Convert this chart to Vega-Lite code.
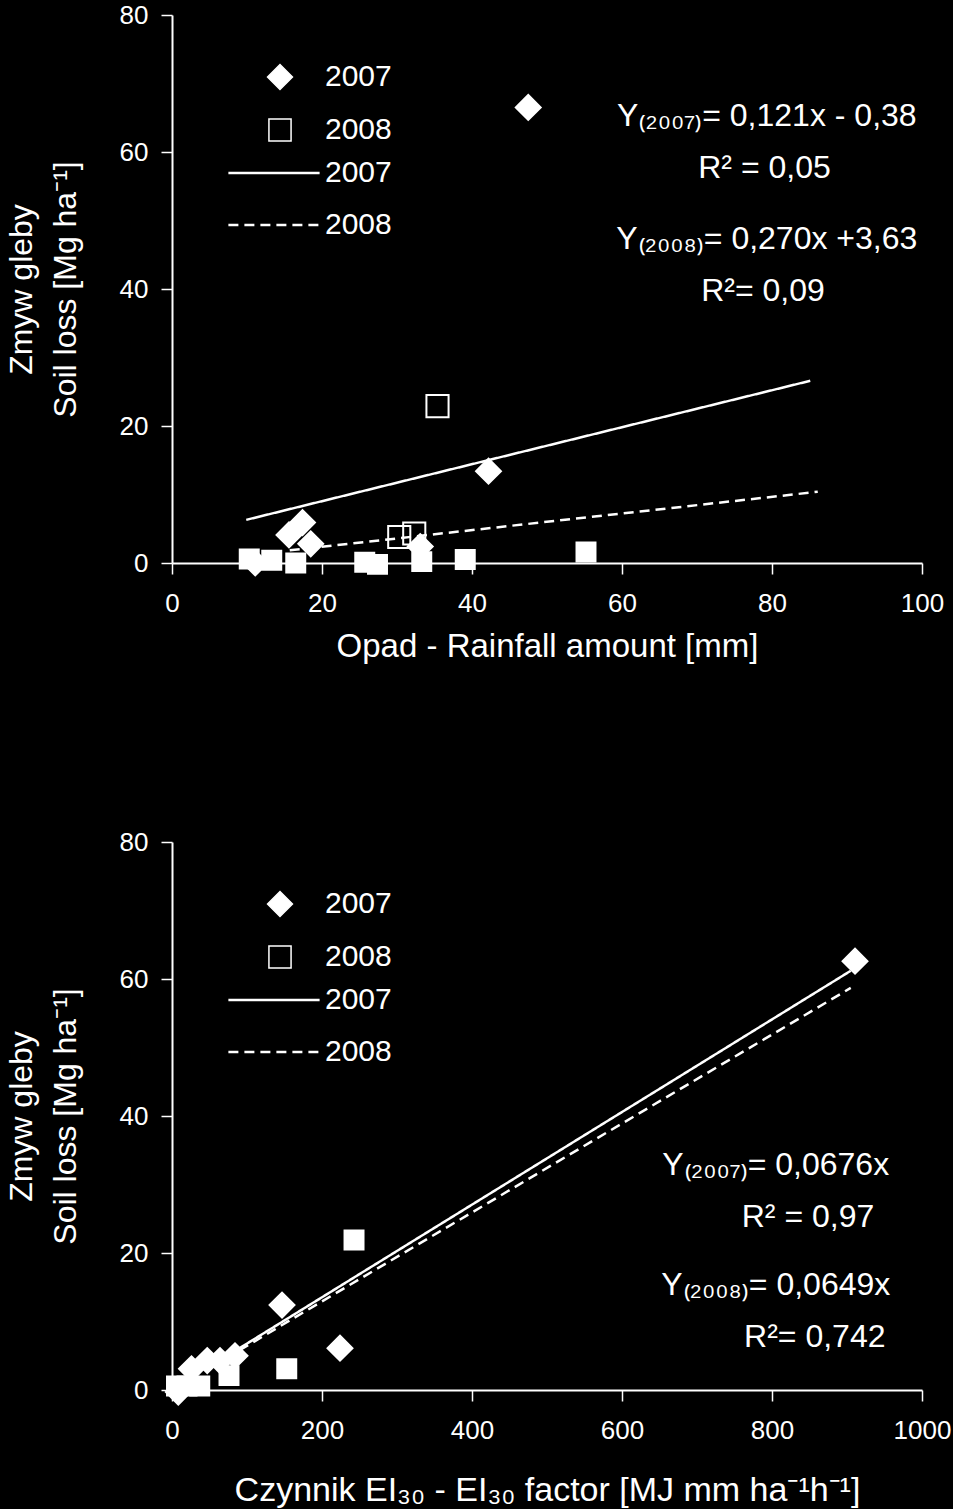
{
  "$schema": "https://vega.github.io/schema/vega-lite/v6.json",
  "background": "black",
  "padding": {"left": 5, "top": 2, "right": 2, "bottom": 2},
  "spacing": 166,
  "config": {
    "font": "Liberation Sans",
    "view": {"stroke": null},
    "axis": {
      "grid": false,
      "domainColor": "white",
      "domainWidth": 2,
      "tickColor": "white",
      "tickWidth": 1.5,
      "tickSize": 11,
      "labelColor": "white",
      "labelFont": "Liberation Sans",
      "labelFontSize": 26,
      "labelFlush": false,
      "labelOverlap": false,
      "labelBound": false,
      "titleColor": "white",
      "titleFont": "Liberation Sans",
      "titleFontSize": 33,
      "titleFontWeight": "normal"
    },
    "axisX": {"labelPadding": 16, "titlePadding": 14, "format": "d"},
    "axisY": {"labelPadding": 13, "titlePadding": 37, "titleLineHeight": 44, "titleFontSize": 32}
  },
  "datasets": {
    "pts": [
      {"panel": "A", "grp": "2007", "x": 47.5, "y": 66.5},
      {"panel": "A", "grp": "2007", "x": 42.2, "y": 13.4},
      {"panel": "A", "grp": "2007", "x": 15.6, "y": 4.1},
      {"panel": "A", "grp": "2007", "x": 17.4, "y": 5.9},
      {"panel": "A", "grp": "2007", "x": 18.5, "y": 2.8},
      {"panel": "A", "grp": "2007", "x": 33.1, "y": 2.4},
      {"panel": "A", "grp": "2007", "x": 11.1, "y": 0},
      {"panel": "A", "grp": "2008", "x": 35.4, "y": 22.9},
      {"panel": "A", "grp": "2008", "x": 30.3, "y": 3.8},
      {"panel": "A", "grp": "2008", "x": 32.3, "y": 4.3},
      {"panel": "A", "grp": "f", "x": 10.3, "y": 0.6},
      {"panel": "A", "grp": "f", "x": 13.3, "y": 0.4},
      {"panel": "A", "grp": "f", "x": 16.5, "y": 0},
      {"panel": "A", "grp": "f", "x": 25.7, "y": 0.1},
      {"panel": "A", "grp": "f", "x": 27.4, "y": -0.2},
      {"panel": "A", "grp": "f", "x": 33.3, "y": 0.2},
      {"panel": "A", "grp": "f", "x": 39.1, "y": 0.5},
      {"panel": "A", "grp": "f", "x": 55.2, "y": 1.6},
      {"panel": "B", "grp": "2007", "x": 910.7, "y": 62.6},
      {"panel": "B", "grp": "2007", "x": 146.7, "y": 12.4},
      {"panel": "B", "grp": "2007", "x": 224, "y": 6.1},
      {"panel": "B", "grp": "2007", "x": 26, "y": 3.1},
      {"panel": "B", "grp": "2007", "x": 84, "y": 5.0},
      {"panel": "B", "grp": "2007", "x": 47, "y": 4.3},
      {"panel": "B", "grp": "2007", "x": 64, "y": 4.3},
      {"panel": "B", "grp": "2007", "x": 8.4, "y": -0.3},
      {"panel": "B", "grp": "f", "x": 242.7, "y": 21.9},
      {"panel": "B", "grp": "f", "x": 153, "y": 3.1},
      {"panel": "B", "grp": "f", "x": 76, "y": 2.1},
      {"panel": "B", "grp": "f", "x": 6, "y": 0.6},
      {"panel": "B", "grp": "f", "x": 20, "y": 0.6},
      {"panel": "B", "grp": "f", "x": 37, "y": 0.6}
    ],
    "lines": [
      {"panel": "A", "series": "2007", "x": 9.9, "y": 6.3},
      {"panel": "A", "series": "2007", "x": 85.1, "y": 26.6},
      {"panel": "A", "series": "2008", "x": 15.7, "y": 1.85},
      {"panel": "A", "series": "2008", "x": 86.1, "y": 10.4},
      {"panel": "B", "series": "2007", "x": 90, "y": 6.1},
      {"panel": "B", "series": "2007", "x": 905, "y": 61.2},
      {"panel": "B", "series": "2008", "x": 90, "y": 5.8},
      {"panel": "B", "series": "2008", "x": 905, "y": 58.7}
    ]
  },
  "resolve": {
    "scale": {"shape": "independent", "fill": "independent", "size": "independent", "strokeDash": "independent"},
    "legend": {"shape": "independent", "fill": "independent", "size": "independent", "strokeDash": "independent"}
  },
  "vconcat": [
    {
      "width": 750,
      "height": 548,
      "layer": [
        {
          "data": {"name": "lines"},
          "transform": [{"filter": "datum.panel === 'A'"}],
          "mark": {"type": "line", "stroke": "white", "strokeWidth": 2.5},
          "encoding": {
            "x": {"field": "x", "type": "quantitative", "scale": {"domain": [0, 100], "nice": false}, "axis": {"values": [0, 20, 40, 60, 80, 100], "title": "Opad - Rainfall amount [mm]"}},
            "y": {"field": "y", "type": "quantitative", "scale": {"domain": [0, 80], "nice": false}, "axis": {"values": [0, 20, 40, 60, 80], "title": ["Zmyw gleby", "Soil loss [Mg ha⁻¹]"]}},
            "strokeDash": {"field": "series", "type": "nominal", "scale": {"domain": ["2007", "2008"], "range": [[1, 0], [10, 6]]},
              "legend": {"title": null, "orient": "none", "legendX": 87, "legendY": 143, "padding": 0, "labelFontSize": 30, "labelColor": "white", "labelFont": "Liberation Sans", "labelOffset": 36, "rowPadding": 22, "symbolType": "M-4,0H4", "symbolSize": 520, "symbolStrokeColor": "white", "symbolStrokeWidth": 2.5}}
          }
        },
        {
          "data": {"name": "pts"},
          "transform": [{"filter": "datum.panel === 'A'"}],
          "mark": {"type": "point", "stroke": "white", "strokeWidth": 2, "opacity": 1},
          "encoding": {
            "x": {"field": "x", "type": "quantitative"},
            "y": {"field": "y", "type": "quantitative"},
            "shape": {"field": "grp", "type": "nominal", "scale": {"domain": ["2007", "2008", "f"], "range": ["diamond", "square", "square"]},
              "legend": {"title": null, "orient": "none", "legendX": 93, "legendY": 47, "padding": 0, "values": ["2007", "2008"], "labelFontSize": 30, "labelColor": "white", "labelFont": "Liberation Sans", "labelOffset": 30, "rowPadding": 22, "encode": {"symbols": {"update": {"stroke": {"value": "white"}, "strokeWidth": {"value": 2}}}}}},
            "fill": {"field": "grp", "type": "nominal", "scale": {"domain": ["2007", "2008", "f"], "range": ["white", "transparent", "white"]},
              "legend": {"title": null, "orient": "none", "legendX": 93, "legendY": 47, "padding": 0, "values": ["2007", "2008"], "labelFontSize": 30, "labelColor": "white", "labelFont": "Liberation Sans", "labelOffset": 30, "rowPadding": 22, "encode": {"symbols": {"update": {"stroke": {"value": "white"}, "strokeWidth": {"value": 2}}}}}},
            "size": {"field": "grp", "type": "nominal", "scale": {"domain": ["2007", "2008", "f"], "range": [620, 360, 400]},
              "legend": {"title": null, "orient": "none", "legendX": 93, "legendY": 47, "padding": 0, "values": ["2007", "2008"], "labelFontSize": 30, "labelColor": "white", "labelFont": "Liberation Sans", "labelOffset": 30, "rowPadding": 22, "encode": {"symbols": {"update": {"stroke": {"value": "white"}, "strokeWidth": {"value": 2}}}}}}
          }
        },
        {"data": {"values": [{}]}, "mark": {"type": "text", "text": "Y₍₂₀₀₇₎= 0,121x - 0,38", "color": "white", "fontSize": 32, "align": "center", "baseline": "middle"},
         "encoding": {"x": {"datum": 79.3, "type": "quantitative"}, "y": {"datum": 65.3, "type": "quantitative"}}},
        {"data": {"values": [{}]}, "mark": {"type": "text", "text": "R² = 0,05", "color": "white", "fontSize": 32, "align": "center", "baseline": "middle"},
         "encoding": {"x": {"datum": 79.0, "type": "quantitative"}, "y": {"datum": 57.7, "type": "quantitative"}}},
        {"data": {"values": [{}]}, "mark": {"type": "text", "text": "Y₍₂₀₀₈₎= 0,270x +3,63", "color": "white", "fontSize": 32, "align": "center", "baseline": "middle"},
         "encoding": {"x": {"datum": 79.3, "type": "quantitative"}, "y": {"datum": 47.3, "type": "quantitative"}}},
        {"data": {"values": [{}]}, "mark": {"type": "text", "text": "R²= 0,09", "color": "white", "fontSize": 32, "align": "center", "baseline": "middle"},
         "encoding": {"x": {"datum": 78.8, "type": "quantitative"}, "y": {"datum": 39.7, "type": "quantitative"}}}
      ]
    },
    {
      "width": 750,
      "height": 548,
      "layer": [
        {
          "data": {"name": "lines"},
          "transform": [{"filter": "datum.panel === 'B'"}],
          "mark": {"type": "line", "stroke": "white", "strokeWidth": 2.5},
          "encoding": {
            "x": {"field": "x", "type": "quantitative", "scale": {"domain": [0, 1000], "nice": false}, "axis": {"values": [0, 200, 400, 600, 800, 1000], "title": "Czynnik EI₃₀ -  EI₃₀  factor [MJ mm ha⁻¹h⁻¹]", "titlePadding": 30, "titleFontSize": 34}},
            "y": {"field": "y", "type": "quantitative", "scale": {"domain": [0, 80], "nice": false}, "axis": {"values": [0, 20, 40, 60, 80], "title": ["Zmyw gleby", "Soil loss [Mg ha⁻¹]"]}},
            "strokeDash": {"field": "series", "type": "nominal", "scale": {"domain": ["2007", "2008"], "range": [[1, 0], [10, 6]]},
              "legend": {"title": null, "orient": "none", "legendX": 87, "legendY": 143, "padding": 0, "labelFontSize": 30, "labelColor": "white", "labelFont": "Liberation Sans", "labelOffset": 36, "rowPadding": 22, "symbolType": "M-4,0H4", "symbolSize": 520, "symbolStrokeColor": "white", "symbolStrokeWidth": 2.5}}
          }
        },
        {
          "data": {"name": "pts"},
          "transform": [{"filter": "datum.panel === 'B'"}],
          "mark": {"type": "point", "stroke": "white", "strokeWidth": 2, "opacity": 1},
          "encoding": {
            "x": {"field": "x", "type": "quantitative"},
            "y": {"field": "y", "type": "quantitative"},
            "shape": {"field": "grp", "type": "nominal", "scale": {"domain": ["2007", "2008", "f"], "range": ["diamond", "square", "square"]},
              "legend": {"title": null, "orient": "none", "legendX": 93, "legendY": 47, "padding": 0, "values": ["2007", "2008"], "labelFontSize": 30, "labelColor": "white", "labelFont": "Liberation Sans", "labelOffset": 30, "rowPadding": 22, "encode": {"symbols": {"update": {"stroke": {"value": "white"}, "strokeWidth": {"value": 2}}}}}},
            "fill": {"field": "grp", "type": "nominal", "scale": {"domain": ["2007", "2008", "f"], "range": ["white", "transparent", "white"]},
              "legend": {"title": null, "orient": "none", "legendX": 93, "legendY": 47, "padding": 0, "values": ["2007", "2008"], "labelFontSize": 30, "labelColor": "white", "labelFont": "Liberation Sans", "labelOffset": 30, "rowPadding": 22, "encode": {"symbols": {"update": {"stroke": {"value": "white"}, "strokeWidth": {"value": 2}}}}}},
            "size": {"field": "grp", "type": "nominal", "scale": {"domain": ["2007", "2008", "f"], "range": [620, 360, 400]},
              "legend": {"title": null, "orient": "none", "legendX": 93, "legendY": 47, "padding": 0, "values": ["2007", "2008"], "labelFontSize": 30, "labelColor": "white", "labelFont": "Liberation Sans", "labelOffset": 30, "rowPadding": 22, "encode": {"symbols": {"update": {"stroke": {"value": "white"}, "strokeWidth": {"value": 2}}}}}}
          }
        },
        {"data": {"values": [{}]}, "mark": {"type": "text", "text": "Y₍₂₀₀₇₎= 0,0676x", "color": "white", "fontSize": 32, "align": "center", "baseline": "middle"},
         "encoding": {"x": {"datum": 805, "type": "quantitative"}, "y": {"datum": 32.8, "type": "quantitative"}}},
        {"data": {"values": [{}]}, "mark": {"type": "text", "text": "R² = 0,97", "color": "white", "fontSize": 32, "align": "center", "baseline": "middle"},
         "encoding": {"x": {"datum": 848, "type": "quantitative"}, "y": {"datum": 25.3, "type": "quantitative"}}},
        {"data": {"values": [{}]}, "mark": {"type": "text", "text": "Y₍₂₀₀₈₎= 0,0649x", "color": "white", "fontSize": 32, "align": "center", "baseline": "middle"},
         "encoding": {"x": {"datum": 805, "type": "quantitative"}, "y": {"datum": 15.3, "type": "quantitative"}}},
        {"data": {"values": [{}]}, "mark": {"type": "text", "text": "R²= 0,742", "color": "white", "fontSize": 32, "align": "center", "baseline": "middle"},
         "encoding": {"x": {"datum": 857, "type": "quantitative"}, "y": {"datum": 7.7, "type": "quantitative"}}}
      ]
    }
  ]
}
